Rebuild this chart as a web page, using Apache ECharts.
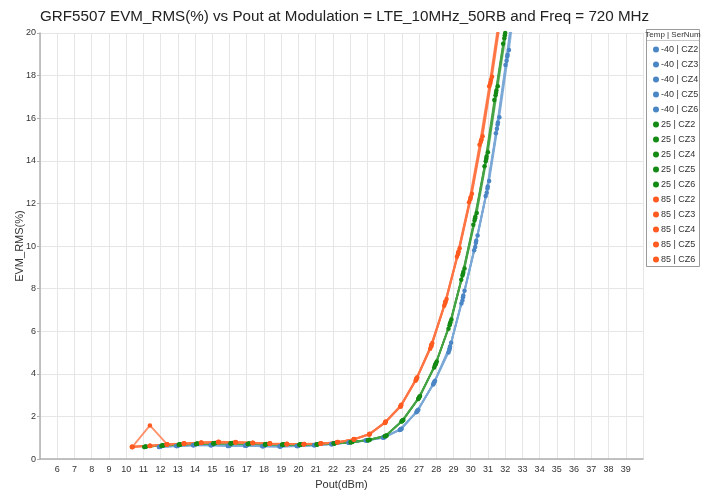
<!DOCTYPE html>
<html>
<head>
<meta charset="utf-8">
<script src="https://cdn.jsdelivr.net/npm/echarts@6/dist/echarts.min.js"></script>
<style>html,body{margin:0;padding:0;background:#fff;}#c{width:709px;height:495px;}</style>
</head>
<body>
<div id="c"></div>
<script>
// ---- Data (Pout dBm, EVM_RMS %) ----
const titleText = "GRF5507 EVM_RMS(%) vs Pout at Modulation = LTE_10MHz_50RB and Freq = 720 MHz";
const xTicks = [6,7,8,9,10,11,12,13,14,15,16,17,18,19,20,21,22,23,24,25,26,27,28,29,30,31,32,33,34,35,36,37,38,39];
const yTicks = [0,2,4,6,8,10,12,14,16,18,20];
const temps = ["-40","25","85"];
const serials = ["CZ2","CZ3","CZ4","CZ5","CZ6"];

const m40_CZ2 = [[11.95,0.58],[12.95,0.62],[13.93,0.66],[14.95,0.66],[15.95,0.63],[16.95,0.64],[17.95,0.61],[18.95,0.60],[19.95,0.62],[20.95,0.66],[21.95,0.71],[22.95,0.78],[23.95,0.88],[24.96,1.02],[25.93,1.40],[26.90,2.26],[27.87,3.59],[28.78,5.20],[29.55,7.60],[30.30,10.15],[30.97,12.70],[31.56,15.70],[32.12,18.90],[32.60,21.90]];
const m40_CZ3 = [[11.90,0.57],[12.90,0.61],[13.88,0.65],[14.90,0.65],[15.90,0.62],[16.90,0.63],[17.90,0.60],[18.90,0.59],[19.90,0.61],[20.90,0.65],[21.90,0.70],[22.90,0.77],[23.90,0.87],[24.91,1.00],[25.88,1.37],[26.85,2.20],[27.82,3.50],[28.71,5.00],[29.46,7.30],[30.20,9.80],[30.87,12.35],[31.46,15.30],[32.02,18.50],[32.50,21.50]];
const m40_CZ4 = [[12.01,0.59],[13.01,0.63],[13.99,0.67],[15.01,0.67],[16.01,0.64],[17.01,0.65],[18.01,0.62],[19.01,0.61],[20.01,0.63],[21.01,0.67],[22.01,0.72],[23.01,0.79],[24.01,0.89],[25.02,1.04],[25.99,1.43],[26.96,2.32],[27.93,3.68],[28.86,5.46],[29.64,7.90],[30.40,10.50],[31.07,13.05],[31.66,16.05],[32.22,19.20],[32.70,22.20]];
const m40_CZ5 = [[11.97,0.58],[12.97,0.62],[13.95,0.66],[14.97,0.66],[15.97,0.63],[16.97,0.64],[17.97,0.61],[18.97,0.60],[19.97,0.62],[20.97,0.66],[21.97,0.71],[22.97,0.78],[23.97,0.88],[24.98,1.03],[25.95,1.41],[26.92,2.28],[27.89,3.62],[28.80,5.28],[29.57,7.68],[30.32,10.25],[30.99,12.80],[31.58,15.80],[32.14,18.98],[32.62,22.00]];
const m40_CZ6 = [[11.93,0.57],[12.93,0.61],[13.91,0.65],[14.93,0.65],[15.93,0.62],[16.93,0.63],[17.93,0.60],[18.93,0.59],[19.93,0.61],[20.93,0.65],[21.93,0.70],[22.93,0.77],[23.93,0.87],[24.94,1.01],[25.91,1.38],[26.88,2.23],[27.85,3.55],[28.76,5.12],[29.52,7.45],[30.26,9.95],[30.93,12.50],[31.52,15.50],[32.08,18.70],[32.56,21.70]];

const p25_CZ2 = [[11.10,0.58],[12.10,0.64],[13.10,0.68],[14.10,0.72],[15.10,0.74],[16.10,0.74],[17.10,0.72],[18.10,0.70],[19.10,0.68],[20.10,0.68],[21.10,0.70],[22.09,0.74],[23.08,0.80],[24.08,0.90],[25.06,1.09],[26.03,1.80],[27.00,2.89],[27.96,4.45],[28.80,6.35],[29.55,8.70],[30.25,11.30],[30.90,14.10],[31.47,17.20],[31.98,19.90],[32.42,22.50]];
const p25_CZ3 = [[11.05,0.57],[12.05,0.63],[13.05,0.67],[14.05,0.71],[15.05,0.73],[16.05,0.73],[17.05,0.71],[18.05,0.69],[19.05,0.67],[20.05,0.67],[21.05,0.69],[22.04,0.73],[23.03,0.79],[24.03,0.89],[25.01,1.07],[25.98,1.76],[26.95,2.82],[27.88,4.30],[28.71,6.12],[29.45,8.42],[30.15,11.00],[30.80,13.75],[31.37,16.85],[31.88,19.50],[32.32,22.10]];
const p25_CZ4 = [[11.16,0.59],[12.16,0.65],[13.16,0.69],[14.16,0.73],[15.16,0.75],[16.16,0.75],[17.16,0.73],[18.16,0.71],[19.16,0.69],[20.16,0.69],[21.16,0.71],[22.15,0.75],[23.14,0.81],[24.14,0.91],[25.12,1.11],[26.09,1.84],[27.06,2.96],[28.03,4.58],[28.88,6.55],[29.64,8.95],[30.35,11.55],[31.00,14.40],[31.57,17.50],[32.08,20.15],[32.52,22.80]];
const p25_CZ5 = [[11.12,0.58],[12.12,0.64],[13.12,0.68],[14.12,0.72],[15.12,0.74],[16.12,0.74],[17.12,0.72],[18.12,0.70],[19.12,0.68],[20.12,0.68],[21.12,0.70],[22.11,0.74],[23.10,0.80],[24.10,0.90],[25.08,1.10],[26.05,1.82],[27.02,2.92],[27.98,4.50],[28.82,6.42],[29.57,8.78],[30.27,11.38],[30.92,14.20],[31.49,17.30],[32.00,20.00],[32.44,22.60]];
const p25_CZ6 = [[11.08,0.57],[12.08,0.63],[13.08,0.68],[14.08,0.71],[15.08,0.73],[16.08,0.73],[17.08,0.71],[18.08,0.69],[19.08,0.68],[20.08,0.68],[21.08,0.69],[22.07,0.73],[23.06,0.79],[24.06,0.89],[25.04,1.08],[26.01,1.78],[26.98,2.86],[27.93,4.40],[28.77,6.28],[29.52,8.62],[30.22,11.20],[30.87,13.98],[31.44,17.08],[31.95,19.75],[32.39,22.35]];

const p85_CZ2 = [[10.35,0.56],[11.38,1.58],[12.37,0.70],[13.36,0.74],[14.36,0.78],[15.36,0.82],[16.35,0.80],[17.35,0.77],[18.34,0.74],[19.33,0.72],[20.32,0.71],[21.30,0.74],[22.27,0.80],[23.22,0.94],[24.12,1.18],[25.04,1.74],[25.94,2.52],[26.84,3.78],[27.70,5.35],[28.52,7.38],[29.27,9.70],[29.98,12.25],[30.60,14.95],[31.15,17.70],[31.64,20.40]];
const p85_CZ3 = [[10.33,0.58],[11.36,0.62],[12.35,0.68],[13.34,0.72],[14.34,0.76],[15.34,0.79],[16.33,0.78],[17.33,0.75],[18.32,0.72],[19.31,0.70],[20.30,0.70],[21.28,0.72],[22.25,0.79],[23.20,0.92],[24.10,1.15],[25.02,1.70],[25.92,2.46],[26.80,3.68],[27.65,5.18],[28.46,7.20],[29.20,9.50],[29.90,12.05],[30.51,14.75],[31.07,17.50],[31.55,20.15]];
const p85_CZ4 = [[10.38,0.57],[11.40,0.63],[12.39,0.69],[13.38,0.73],[14.38,0.77],[15.38,0.80],[16.37,0.79],[17.37,0.76],[18.36,0.73],[19.35,0.71],[20.34,0.71],[21.32,0.73],[22.29,0.80],[23.24,0.93],[24.14,1.19],[25.07,1.76],[25.97,2.55],[26.89,3.84],[27.77,5.45],[28.60,7.52],[29.36,9.90],[30.07,12.45],[30.69,15.15],[31.24,17.95],[31.72,20.55]];
const p85_CZ5 = [[10.34,0.58],[11.37,0.63],[12.36,0.69],[13.35,0.73],[14.35,0.77],[15.35,0.80],[16.34,0.79],[17.34,0.76],[18.33,0.73],[19.32,0.71],[20.31,0.70],[21.29,0.73],[22.26,0.79],[23.21,0.93],[24.11,1.16],[25.03,1.71],[25.93,2.48],[26.83,3.73],[27.70,5.28],[28.51,7.30],[29.26,9.62],[29.97,12.18],[30.58,14.88],[31.13,17.62],[31.62,20.30]];
const p85_CZ6 = [[10.36,0.57],[11.39,0.62],[12.38,0.68],[13.37,0.72],[14.37,0.76],[15.37,0.79],[16.36,0.78],[17.36,0.75],[18.35,0.72],[19.34,0.70],[20.33,0.70],[21.31,0.72],[22.28,0.79],[23.23,0.92],[24.13,1.17],[25.05,1.73],[25.96,2.50],[26.86,3.76],[27.73,5.32],[28.55,7.40],[29.30,9.75],[30.01,12.30],[30.63,15.00],[31.18,17.80],[31.66,20.45]];

// ---- Build ----
const dataByTemp = {
  "-40": [m40_CZ2, m40_CZ3, m40_CZ4, m40_CZ5, m40_CZ6],
  "25":  [p25_CZ2, p25_CZ3, p25_CZ4, p25_CZ5, p25_CZ6],
  "85":  [p85_CZ2, p85_CZ3, p85_CZ4, p85_CZ5, p85_CZ6]
};
const tempColor = { "-40": "#4A86C5", "25": "#138A13", "85": "#FF5A1F" };
const lineColor = { "-40": "#7BA7D6", "25": "#44A244", "85": "#FF7444" };

const series = [];
temps.forEach(t => {
  serials.forEach((s, i) => {
    series.push({
      name: t + " | " + s,
      type: "line",
      data: dataByTemp[t][i],
      symbol: "circle",
      symbolSize: 4.5,
      showSymbol: true,
      clip: true,
      itemStyle: { color: tempColor[t] },
      lineStyle: { color: lineColor[t], width: 1.8, opacity: 0.8 },
      emphasis: { disabled: true }
    });
  });
});

const FONT = "Liberation Sans, Arial, sans-serif";
const chart = echarts.init(document.getElementById("c"), null, { renderer: "canvas" });
chart.setOption({
  animation: false,
  backgroundColor: "#fff",
  textStyle: { fontFamily: FONT },
  title: {
    text: titleText,
    left: 35, top: 4,
    textStyle: { fontFamily: FONT, fontSize: 15.2, fontWeight: "normal", color: "#222" }
  },
  grid: { left: 40, right: 66, top: 33, bottom: 35, containLabel: false },
  xAxis: {
    type: "value", min: 5, max: 40, interval: 1,
    name: "Pout(dBm)", nameLocation: "middle", nameGap: 17,
    nameTextStyle: { fontFamily: FONT, fontSize: 11, color: "#333" },
    axisLine: { show: true, onZero: false, lineStyle: { color: "#b0b0b0", width: 1.5 } },
    axisTick: { show: false },
    axisLabel: {
      fontFamily: FONT, fontSize: 9, color: "#333", margin: 6,
      showMinLabel: false, showMaxLabel: false,
      formatter: v => (xTicks.indexOf(v) >= 0 ? String(v) : "")
    },
    splitLine: { show: true, lineStyle: { color: "#e6e6e6", width: 1 } }
  },
  yAxis: {
    type: "value", min: 0, max: 20, interval: 2,
    name: "EVM_RMS(%)", nameLocation: "middle", nameGap: 15, nameMoveOverlap: false,
    nameTextStyle: { fontFamily: FONT, fontSize: 11, color: "#333" },
    axisLine: { show: true, lineStyle: { color: "#b0b0b0", width: 1.5 } },
    axisTick: { show: true, length: 3, lineStyle: { color: "#b0b0b0" } },
    axisLabel: {
      fontFamily: FONT, fontSize: 9, color: "#333", margin: 4,
      formatter: v => (yTicks.indexOf(v) >= 0 ? String(v) : "")
    },
    splitLine: { show: true, lineStyle: { color: "#e6e6e6", width: 1 } }
  },
  legend: {
    orient: "vertical",
    left: 653, top: 42,
    icon: "circle",
    itemWidth: 6, itemHeight: 6, itemGap: 0,
    padding: 0,
    selectedMode: false,
    textStyle: { fontFamily: FONT, fontSize: 9, color: "#333", lineHeight: 15, padding: [0, 0, 0, -3] },
    data: series.map(s => s.name)
  },
  graphic: [
    { type: "rect", z: 0, shape: { x: 646.5, y: 29.5, width: 53, height: 237 },
      style: { fill: "#fff", stroke: "#9a9a9a", lineWidth: 1 } },
    { type: "line", z: 1, shape: { x1: 647, y1: 40.5, x2: 699, y2: 40.5 },
      style: { stroke: "#c8c8c8", lineWidth: 1 } },
    { type: "text", z: 1, x: 673, y: 35,
      style: { text: "Temp | SerNum", fontFamily: FONT, fontSize: 8, fill: "#333", align: "center", verticalAlign: "middle" } }
  ],
  series: series
});
</script>
</body>
</html>
